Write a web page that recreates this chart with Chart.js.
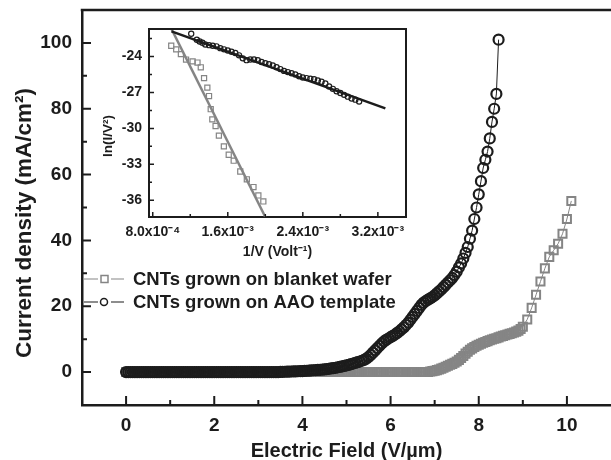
<!DOCTYPE html>
<html>
<head>
<meta charset="utf-8">
<script src="https://cdn.jsdelivr.net/npm/chart.js@4.4.1/dist/chart.umd.min.js"></script>
<style>
  html, body { margin: 0; padding: 0; background: #fff; }
  #wrap { position: relative; width: 611px; height: 460px; overflow: hidden; }
  #main { position: absolute; left: 0; top: 0; }
  #inset { position: absolute; left: 95px; top: 22px; }
</style>
</head>
<body>
<div id="wrap">
  <canvas id="main" width="611" height="460"></canvas>
  <canvas id="inset" width="320" height="240"></canvas>
</div>
<script>
// main plot: current density vs field
const aaoField = [
  0,0.05,0.1,0.15,0.2,0.25,0.3,0.35,0.4,0.45,0.5,0.55,0.6,0.65,0.7,0.75,0.8,0.85,0.9,0.95,
  1,1.05,1.1,1.15,1.2,1.25,1.3,1.35,1.4,1.45,1.5,1.55,1.6,1.65,1.7,1.75,1.8,1.85,1.9,1.95,
  2,2.05,2.1,2.15,2.2,2.25,2.3,2.35,2.4,2.45,2.5,2.55,2.6,2.65,2.7,2.75,2.8,2.85,2.9,2.95,
  3,3.05,3.1,3.15,3.2,3.25,3.3,3.35,3.4,3.45,3.5,3.55,3.6,3.65,3.7,3.75,3.8,3.85,3.9,3.95,
  4,4.05,4.1,4.15,4.2,4.25,4.3,4.35,4.4,4.45,4.5,4.55,4.6,4.65,4.7,4.75,4.8,4.85,4.9,4.95,
  5,5.05,5.1,5.15,5.2,5.25,5.3,5.35,5.4,5.45,5.5,5.55,5.6,5.65,5.7,5.75,5.8,5.85,5.9,5.95,
  6,6.05,6.1,6.15,6.2,6.25,6.3,6.35,6.4,6.45,6.5,6.55,6.6,6.65,6.7,6.75,6.8,6.85,6.9,6.95,
  7,7.05,7.1,7.15,7.2,7.25,7.3,7.35,7.4,7.45,7.5,7.55,7.6,7.65,7.7,7.75,7.8,7.85,7.9,7.95,
  8,8.05,8.1,8.15,8.2,8.25,8.3,8.35,8.4,8.45];
const aaoCurrent = [
  0,0,0,0,0,0,0,0,0,0,0,0,0,0,0,0,0,0,0,0,
  0,0,0,0,0,0,0,0,0,0,0,0,0,0,0,0,0,0,0,0,
  0,0,0,0,0,0,0,0,0,0,0,0,0,0,0,0,0,0,0,0,
  0,0,0,0,0,0,0,0,0,0,0.05,0.08,0.1,0.12,0.15,0.18,0.2,0.22,0.25,0.28,
  0.3,0.35,0.4,0.45,0.5,0.55,0.6,0.65,0.7,0.75,0.8,0.9,1.0,1.1,1.2,1.3,1.45,1.6,1.75,1.9,
  2.05,2.2,2.4,2.6,2.8,3.0,3.2,3.45,3.7,4.1,4.6,5.2,5.9,6.6,7.3,8.0,8.7,9.3,9.8,10.2,
  10.6,11.0,11.4,11.9,12.4,13.0,13.6,14.3,15.0,15.9,16.8,17.7,18.6,19.5,20.4,21.1,21.6,22.0,22.4,22.8,
  23.3,23.9,24.5,25.1,25.8,26.5,27.2,27.9,28.6,29.5,30.5,31.8,33.0,34.5,36.2,38.0,40.5,43.0,46.5,50.0,
  54.0,58.0,62.0,64.5,67.0,71.0,76.0,80.0,84.5,101.0];
const blanketField = [
  0,0.05,0.1,0.15,0.2,0.25,0.3,0.35,0.4,0.45,0.5,0.55,0.6,0.65,0.7,0.75,0.8,0.85,0.9,0.95,
  1,1.05,1.1,1.15,1.2,1.25,1.3,1.35,1.4,1.45,1.5,1.55,1.6,1.65,1.7,1.75,1.8,1.85,1.9,1.95,
  2,2.05,2.1,2.15,2.2,2.25,2.3,2.35,2.4,2.45,2.5,2.55,2.6,2.65,2.7,2.75,2.8,2.85,2.9,2.95,
  3,3.05,3.1,3.15,3.2,3.25,3.3,3.35,3.4,3.45,3.5,3.55,3.6,3.65,3.7,3.75,3.8,3.85,3.9,3.95,
  4,4.05,4.1,4.15,4.2,4.25,4.3,4.35,4.4,4.45,4.5,4.55,4.6,4.65,4.7,4.75,4.8,4.85,4.9,4.95,
  5,5.05,5.1,5.15,5.2,5.25,5.3,5.35,5.4,5.45,5.5,5.55,5.6,5.65,5.7,5.75,5.8,5.85,5.9,5.95,
  6,6.05,6.1,6.15,6.2,6.25,6.3,6.35,6.4,6.45,6.5,6.55,6.6,6.65,6.7,6.75,6.8,6.85,6.9,6.95,
  7,7.05,7.1,7.15,7.2,7.25,7.3,7.35,7.4,7.45,7.5,7.55,7.6,7.65,7.7,7.75,7.8,7.85,7.9,7.95,
  8,8.05,8.1,8.15,8.2,8.25,8.3,8.35,8.4,8.45,8.5,8.55,8.6,8.65,8.7,8.75,8.8,8.85,8.9,8.95,
  9,9.1,9.2,9.3,9.4,9.5,9.6,9.7,9.8,9.9,10,10.1];
const blanketCurrent = [
  0,0,0,0,0,0,0,0,0,0,0,0,0,0,0,0,0,0,0,0,
  0,0,0,0,0,0,0,0,0,0,0,0,0,0,0,0,0,0,0,0,
  0,0,0,0,0,0,0,0,0,0,0,0,0,0,0,0,0,0,0,0,
  0,0,0,0,0,0,0,0,0,0,0,0,0,0,0,0,0,0,0,0,
  0,0,0,0,0,0,0,0,0,0,0,0,0,0,0,0,0,0,0,0,
  0,0,0,0,0,0,0,0,0,0,0,0,0,0,0,0,0,0,0,0,
  0,0,0,0,0,0,0,0,0,0,0,0,0,0,0,0,0,0,0.2,0.3,
  0.4,0.6,0.8,1.05,1.3,1.6,1.9,2.2,2.5,2.85,3.2,3.7,4.3,4.9,5.6,6.2,6.8,7.2,7.6,8.0,
  8.3,8.6,8.9,9.15,9.4,9.65,9.9,10.1,10.3,10.55,10.8,11.0,11.2,11.4,11.6,11.8,12.0,12.3,12.6,13.1,
  13.8,16.0,19.5,23.5,27.5,31.5,35.0,37.0,39.0,42.0,46.5,52.0];
const fieldTicks = [0, 2, 4, 6, 8, 10];
const fieldMinor = [1, 3, 5, 7, 9];
const currentTicks = [0, 20, 40, 60, 80, 100];
const currentMinor = [10, 30, 50, 70, 90];

// inset: Fowler-Nordheim plot
const aaoInvV = [1.21e-3,1.27e-3,1.30e-3,1.33e-3,1.36e-3,1.40e-3,1.44e-3,1.48e-3,1.52e-3,1.56e-3,
  1.60e-3,1.64e-3,1.68e-3,1.72e-3,1.76e-3,1.80e-3,1.84e-3,1.88e-3,1.92e-3,1.96e-3,
  2.00e-3,2.04e-3,2.08e-3,2.12e-3,2.16e-3,2.20e-3,2.24e-3,2.28e-3,2.32e-3,2.36e-3,
  2.40e-3,2.44e-3,2.48e-3,2.52e-3,2.56e-3,2.60e-3,2.64e-3,2.68e-3,2.72e-3,2.76e-3,
  2.80e-3,2.84e-3,2.88e-3,2.92e-3,2.96e-3,3.00e-3];
const aaoLn = [-22.1,-22.6,-22.75,-22.85,-23.0,-23.05,-23.1,-23.15,-23.3,-23.4,
  -23.5,-23.6,-23.7,-23.9,-24.15,-24.3,-24.25,-24.25,-24.3,-24.45,
  -24.55,-24.65,-24.75,-24.9,-25.05,-25.2,-25.3,-25.4,-25.5,-25.65,
  -25.75,-25.8,-25.85,-25.9,-26.0,-26.1,-26.25,-26.5,-26.7,-26.9,
  -27.05,-27.2,-27.35,-27.5,-27.6,-27.75];
const blanketInvV = [0.997e-3,1.05e-3,1.10e-3,1.155e-3,1.225e-3,1.277e-3,1.312e-3,1.347e-3,1.382e-3,1.40e-3,
  1.418e-3,1.435e-3,1.47e-3,1.505e-3,1.558e-3,1.61e-3,1.663e-3,1.733e-3,1.803e-3,1.874e-3,1.926e-3,1.979e-3];
const blanketLn = [-23.1,-23.4,-23.8,-24.25,-24.4,-24.5,-24.9,-25.8,-26.6,-27.3,
  -28.4,-29.25,-29.8,-30.6,-31.5,-32.2,-32.7,-33.6,-34.25,-34.9,-35.6,-36.1];
const aaoFitX = [1.0e-3, 3.28e-3];
const aaoFitY = [-21.9, -28.33];
const blanketFitX = [1.0e-3, 2.0e-3];
const blanketFitY = [-21.7, -37.4];
const invVTicks = [8e-4, 1.6e-3, 2.4e-3, 3.2e-3];
const invVTickLabels = ['8.0x10⁻⁴', '1.6x10⁻³', '2.4x10⁻³', '3.2x10⁻³'];
const invVMinor = [1.2e-3, 2.0e-3, 2.8e-3];
const lnTicks = [-24, -27, -30, -33, -36];
const lnMinor = [-22.5, -25.5, -28.5, -31.5, -34.5];

const ink = '#1c1c1c';
const grey = '#858585';
const FONT = "'Liberation Sans', Arial, sans-serif";

const pairs = (xs, ys) => xs.map((v, i) => ({x: v, y: ys[i]}));

function drawTickMarks(ctx, area, scale, values, len) {
  ctx.beginPath();
  values.forEach(v => {
    const p = scale.getPixelForValue(v);
    if (scale.isHorizontal()) {
      ctx.moveTo(p, area.bottom);
      ctx.lineTo(p, area.bottom - len);
    } else {
      ctx.moveTo(area.left, p);
      ctx.lineTo(area.left + len, p);
    }
  });
  ctx.stroke();
}

function rotatedText(ctx, text, font, cx, cy) {
  ctx.save();
  ctx.fillStyle = ink;
  ctx.font = font;
  ctx.textAlign = 'center';
  ctx.textBaseline = 'middle';
  ctx.translate(cx, cy);
  ctx.rotate(-Math.PI / 2);
  ctx.fillText(text, 0, 0);
  ctx.restore();
}

const mainDecor = {
  id: 'mainDecor',
  afterDraw(chart) {
    const {ctx, chartArea: a, scales: {x, y}} = chart;
    ctx.save();
    ctx.strokeStyle = ink;
    ctx.lineWidth = 2.5;
    ctx.beginPath();
    ctx.moveTo(a.left - 1.25, a.top);
    ctx.lineTo(a.right, a.top);
    ctx.stroke();

    ctx.lineWidth = 2;
    drawTickMarks(ctx, a, x, fieldTicks, 9);
    drawTickMarks(ctx, a, x, fieldMinor, 5);
    drawTickMarks(ctx, a, y, currentTicks, 9);
    drawTickMarks(ctx, a, y, currentMinor, 5);

    rotatedText(ctx, 'Current density (mA/cm²)', 'bold 22.5px ' + FONT, 25, 223);

    // legend (from the datasets)
    const rows = [chart.data.datasets[1], chart.data.datasets[0]];
    const rowY = [279, 302];
    rows.forEach((ds, i) => {
      const yy = rowY[i];
      ctx.strokeStyle = ds.borderColor;
      ctx.lineWidth = 1.2;
      ctx.beginPath();
      ctx.moveTo(84, yy); ctx.lineTo(98, yy);
      ctx.moveTo(111, yy); ctx.lineTo(124, yy);
      ctx.stroke();
      ctx.lineWidth = 1.5;
      ctx.strokeStyle = ds.pointBorderColor;
      ctx.beginPath();
      if (ds.pointStyle === 'rect') ctx.rect(101, yy - 3.5, 7, 7);
      else ctx.arc(104, yy, 3.5, 0, Math.PI * 2);
      ctx.stroke();
      ctx.fillStyle = ink;
      ctx.font = 'bold 18.5px ' + FONT;
      ctx.textAlign = 'left';
      ctx.textBaseline = 'middle';
      ctx.fillText(ds.label, 133, yy + 1);
    });
    ctx.restore();
  }
};

new Chart(document.getElementById('main'), {
  type: 'scatter',
  data: {
    datasets: [{
      label: 'CNTs grown on AAO template',
      data: pairs(aaoField, aaoCurrent),
      showLine: true,
      borderColor: ink,
      borderWidth: 1,
      pointStyle: 'circle',
      pointRadius: 5,
      pointBorderWidth: 2.2,
      pointBorderColor: ink,
      pointBackgroundColor: 'rgba(255,255,255,0)'
    }, {
      label: 'CNTs grown on blanket wafer',
      data: pairs(blanketField, blanketCurrent),
      showLine: true,
      borderColor: grey,
      borderWidth: 1,
      pointStyle: 'rect',
      pointRadius: 5.7,
      pointBorderWidth: 2,
      pointBorderColor: grey,
      pointBackgroundColor: 'rgba(255,255,255,0)'
    }]
  },
  options: {
    responsive: false,
    animation: false,
    layout: {autoPadding: false, padding: {top: 10, right: 0, left: 0, bottom: 0}},
    plugins: {legend: {display: false}, tooltip: {enabled: false}},
    scales: {
      x: {
        type: 'linear', min: -1, max: 11,
        afterBuildTicks: s => { s.ticks = fieldTicks.map(v => ({value: v})); },
        afterFit: s => { s.height = 55; s.paddingLeft = 0; s.paddingRight = 0; },
        grid: {drawOnChartArea: false, drawTicks: false},
        border: {display: true, color: ink, width: 2.5},
        ticks: {color: ink, font: {family: FONT, size: 19, weight: 'bold'}, padding: 9, maxRotation: 0},
        title: {display: true, text: 'Electric Field (V/µm)', color: ink,
          font: {family: FONT, size: 20, weight: 'bold', lineHeight: 1}, padding: {top: 0, bottom: -1}}
      },
      y: {
        type: 'linear', min: -10, max: 110,
        afterBuildTicks: s => { s.ticks = currentTicks.map(v => ({value: v})); },
        afterFit: s => { s.width = 82; s.paddingTop = 0; s.paddingBottom = 0; },
        grid: {drawOnChartArea: false, drawTicks: false},
        border: {display: true, color: ink, width: 2.5},
        ticks: {color: ink, font: {family: FONT, size: 19, weight: 'bold'}, padding: 10}
      }
    }
  },
  plugins: [mainDecor]
});

const insetDecor = {
  id: 'insetDecor',
  beforeDraw(chart) {
    const {ctx, chartArea: a} = chart;
    ctx.save();
    ctx.fillStyle = '#fff';
    ctx.fillRect(a.left, a.top, a.right - a.left, a.bottom - a.top);
    ctx.restore();
  },
  afterDraw(chart) {
    const {ctx, chartArea: a, scales: {x, y}} = chart;
    ctx.save();
    ctx.strokeStyle = ink;
    ctx.lineWidth = 2;
    ctx.beginPath();
    ctx.moveTo(a.left - 1, a.top);
    ctx.lineTo(a.right, a.top);
    ctx.lineTo(a.right, a.bottom + 1);
    ctx.stroke();
    ctx.lineWidth = 1.5;
    drawTickMarks(ctx, a, x, invVTicks, 5);
    drawTickMarks(ctx, a, x, invVMinor, 3);
    drawTickMarks(ctx, a, y, lnTicks, 5);
    drawTickMarks(ctx, a, y, lnMinor, 3);
    ctx.restore();
    rotatedText(ctx, 'ln(I/V²)', 'bold 13.5px ' + FONT, 13, 114);
  }
};

new Chart(document.getElementById('inset'), {
  type: 'scatter',
  data: {
    datasets: [{
      data: pairs(aaoFitX, aaoFitY),
      showLine: true, borderColor: ink, borderWidth: 2.5, pointRadius: 0
    }, {
      data: pairs(blanketFitX, blanketFitY),
      showLine: true, borderColor: grey, borderWidth: 2.5, pointRadius: 0
    }, {
      data: pairs(aaoInvV, aaoLn),
      showLine: false, pointStyle: 'circle', pointRadius: 2.6, pointBorderWidth: 1.2,
      pointBorderColor: ink, pointBackgroundColor: 'rgba(255,255,255,0)'
    }, {
      data: pairs(blanketInvV, blanketLn),
      showLine: false, pointStyle: 'rect', pointRadius: 3.6, pointBorderWidth: 1.2,
      pointBorderColor: grey, pointBackgroundColor: 'rgba(255,255,255,0)'
    }]
  },
  options: {
    responsive: false,
    animation: false,
    layout: {autoPadding: false, padding: {top: 7, right: 9, left: 0, bottom: 0}},
    plugins: {legend: {display: false}, tooltip: {enabled: false}},
    scales: {
      x: {
        type: 'linear', min: 7.6e-4, max: 3.5e-3,
        afterBuildTicks: s => { s.ticks = invVTicks.map(v => ({value: v})); },
        afterFit: s => { s.height = 45; s.paddingLeft = 0; s.paddingRight = 0; },
        grid: {drawOnChartArea: false, drawTicks: false},
        border: {display: true, color: ink, width: 2},
        ticks: {color: ink, font: {family: FONT, size: 14, weight: 'bold'}, padding: 7, maxRotation: 0,
          callback: (v, i) => invVTickLabels[i]},
        title: {display: true, text: '1/V (Volt⁻¹)', color: ink,
          font: {family: FONT, size: 14, weight: 'bold'}, padding: {top: 0, bottom: 1}}
      },
      y: {
        type: 'linear', min: -37.4, max: -21.7,
        afterBuildTicks: s => { s.ticks = lnTicks.map(v => ({value: v})); },
        afterFit: s => { s.width = 54; s.paddingTop = 0; s.paddingBottom = 0; },
        grid: {drawOnChartArea: false, drawTicks: false},
        border: {display: true, color: ink, width: 2},
        ticks: {color: ink, font: {family: FONT, size: 14, weight: 'bold'}, padding: 7}
      }
    }
  },
  plugins: [insetDecor]
});
</script>
</body>
</html>
